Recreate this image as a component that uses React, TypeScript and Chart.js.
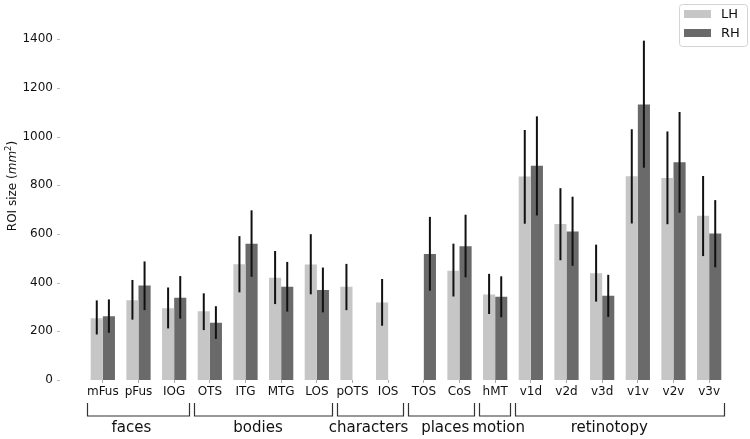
import React, { useEffect, useRef } from 'react';
import { Chart, registerables } from 'chart.js';

Chart.register(...registerables);

const categories = ['mFus', 'pFus', 'IOG', 'OTS', 'ITG', 'MTG', 'LOS', 'pOTS', 'IOS', 'TOS', 'CoS', 'hMT', 'v1d', 'v2d', 'v3d', 'v1v', 'v2v', 'v3v'];

const lhMeans = [254, 328, 295, 282, 476, 420, 474, 383, 318, null, 449, 351, 836, 641, 439, 837, 830, 675];
const lhLow = [187, 248, 212, 205, 360, 312, 352, 287, 223, null, 343, 271, 642, 492, 322, 643, 640, 509];
const lhHigh = [327, 411, 380, 356, 591, 530, 599, 477, 415, null, 560, 436, 1027, 788, 556, 1030, 1021, 838];

const rhMeans = [262, 388, 338, 235, 560, 383, 370, null, null, 518, 549, 342, 880, 610, 346, 1132, 895, 602];
const rhLow = [194, 287, 252, 169, 424, 281, 278, null, null, 367, 422, 258, 676, 469, 259, 872, 687, 463];
const rhHigh = [331, 487, 427, 303, 697, 485, 462, null, null, 670, 679, 426, 1083, 753, 432, 1394, 1101, 739];

const groupNames = ['faces', 'bodies', 'characters', 'places', 'motion', 'retinotopy'];
const groupStart = [0, 3, 7, 9, 11, 12];
const groupEnd = [2, 6, 8, 10, 11, 17];
const groupLabelAt = [0.8, 4.35, 7.45, 9.6, 11.1, 14.2];

const yMin = 0;
const yMax = 1400;
const yStep = 200;

const seriesNames = ['LH', 'RH'];
const LH_COLOR = '#c6c6c6';
const RH_COLOR = '#6a6a6a';
const FONT = 'DejaVu Sans';

export default function App() {
  const ref = useRef<HTMLCanvasElement>(null);

  useEffect(() => {
    if (!ref.current) return;

    const errorBars = {
      id: 'errorBars',
      afterDatasetsDraw(chart: any) {
        const ctx = chart.ctx;
        const y = chart.scales.y;
        const sets = [[lhLow, lhHigh], [rhLow, rhHigh]];
        sets.forEach(([lo, hi], di) => {
          const meta = chart.getDatasetMeta(di);
          meta.data.forEach((bar: any, i: number) => {
            if (lo[i] == null || hi[i] == null) return;
            ctx.save();
            ctx.strokeStyle = '#111';
            ctx.lineWidth = 2;
            ctx.beginPath();
            ctx.moveTo(bar.x, y.getPixelForValue(lo[i]));
            ctx.lineTo(bar.x, y.getPixelForValue(hi[i]));
            ctx.stroke();
            ctx.restore();
          });
        });
      },
    };

    const decorations = {
      id: 'decorations',
      afterDraw(chart: any) {
        const ctx = chart.ctx;
        const x = chart.scales.x;
        const y = chart.scales.y;
        const area = chart.chartArea;

        // y tick marks (small, detached from plot like the reference)
        ctx.save();
        ctx.strokeStyle = '#bbbbbb';
        ctx.lineWidth = 1;
        y.ticks.forEach((t: any) => {
          const py = Math.round(y.getPixelForValue(t.value)) + 0.5;
          ctx.beginPath();
          ctx.moveTo(area.left - 28, py);
          ctx.lineTo(area.left - 25, py);
          ctx.stroke();
        });
        ctx.restore();

        // y axis title with italic mm and superscript 2
        ctx.save();
        ctx.translate(13, 186);
        ctx.rotate(-Math.PI / 2);
        ctx.fillStyle = '#111';
        ctx.textBaseline = 'middle';
        const parts = [
          { t: 'ROI size (', f: `12px "${FONT}"`, dy: 0 },
          { t: 'mm', f: `italic 12px "${FONT}"`, dy: 0 },
          { t: '2', f: `8.5px "${FONT}"`, dy: -4 },
          { t: ')', f: `12px "${FONT}"`, dy: 0 },
        ];
        let total = 0;
        parts.forEach((p) => {
          ctx.font = p.f;
          total += ctx.measureText(p.t).width;
        });
        let cx = -total / 2;
        ctx.textAlign = 'left';
        parts.forEach((p) => {
          ctx.font = p.f;
          ctx.fillText(p.t, cx, p.dy);
          cx += ctx.measureText(p.t).width;
        });
        ctx.restore();

        // group brackets and labels
        const half = (x.getPixelForValue(1) - x.getPixelForValue(0)) / 2;
        ctx.save();
        ctx.strokeStyle = '#333';
        ctx.lineWidth = 1.2;
        const top = 403;
        const bottom = 416;
        groupNames.forEach((name, g) => {
          const l = Math.round(x.getPixelForValue(groupStart[g]) - half + 2) + 0.5;
          const r = Math.round(x.getPixelForValue(groupEnd[g]) + half - 3) + 0.5;
          ctx.beginPath();
          ctx.moveTo(l, top);
          ctx.lineTo(l, bottom);
          ctx.lineTo(r, bottom);
          ctx.lineTo(r, top);
          ctx.stroke();
        });
        ctx.fillStyle = '#111';
        ctx.font = `15px "${FONT}"`;
        ctx.textAlign = 'center';
        ctx.textBaseline = 'middle';
        groupNames.forEach((name, g) => {
          const px = x.getPixelForValue(0) + (x.getPixelForValue(1) - x.getPixelForValue(0)) * groupLabelAt[g];
          ctx.fillText(name, px, 428);
        });
        ctx.restore();

        // legend
        ctx.save();
        const bx = 679.5, by = 4.5, bw = 68, bh = 42;
        ctx.beginPath();
        if ((ctx as any).roundRect) (ctx as any).roundRect(bx, by, bw, bh, 3);
        else ctx.rect(bx, by, bw, bh);
        ctx.fillStyle = 'rgba(255,255,255,0.85)';
        ctx.fill();
        ctx.strokeStyle = '#d4d4d4';
        ctx.lineWidth = 1;
        ctx.stroke();
        const colors = [LH_COLOR, RH_COLOR];
        ctx.font = `13px "${FONT}"`;
        ctx.textAlign = 'left';
        ctx.textBaseline = 'middle';
        seriesNames.forEach((n, i) => {
          const py = 10 + i * 19;
          ctx.fillStyle = colors[i];
          ctx.fillRect(684, py, 27, 8);
          ctx.fillStyle = '#111';
          ctx.fillText(n, 721, py + 4.5);
        });
        ctx.restore();
      },
    };

    const chart = new Chart(ref.current, {
      type: 'bar',
      data: {
        labels: categories,
        datasets: [
          { label: seriesNames[0], data: lhMeans as any, backgroundColor: LH_COLOR, borderWidth: 0 },
          { label: seriesNames[1], data: rhMeans as any, backgroundColor: RH_COLOR, borderWidth: 0 },
        ],
      },
      options: {
        animation: false,
        responsive: true,
        maintainAspectRatio: false,
        layout: { padding: { left: 23, right: 23, top: 13, bottom: 0 } },
        datasets: { bar: { categoryPercentage: 0.68, barPercentage: 1.0 } },
        plugins: { legend: { display: false }, tooltip: { enabled: false } },
        scales: {
          x: {
            offset: true,
            grid: { display: true, drawOnChartArea: false, drawTicks: true, tickLength: 3, color: '#aaaaaa', offset: false },
            border: { display: false },
            ticks: { color: '#111', font: { family: FONT, size: 12 }, padding: 2, maxRotation: 0, autoSkip: false },
            afterFit: (s: any) => { s.height = 59; },
          },
          y: {
            min: yMin,
            max: yMax,
            grid: { display: false, drawTicks: false },
            border: { display: false },
            ticks: {
              stepSize: yStep,
              color: '#111',
              font: { family: FONT, size: 12 },
              padding: 32,
              callback: (v: any) => String(v),
            },
            afterFit: (s: any) => { s.width = 62; },
          },
        },
      },
      plugins: [errorBars, decorations],
    });

    return () => chart.destroy();
  }, []);

  return (
    <div style={{ position: 'fixed', left: 0, top: 0, width: 750, height: 439, background: '#fff' }}>
      <canvas ref={ref} />
    </div>
  );
}
